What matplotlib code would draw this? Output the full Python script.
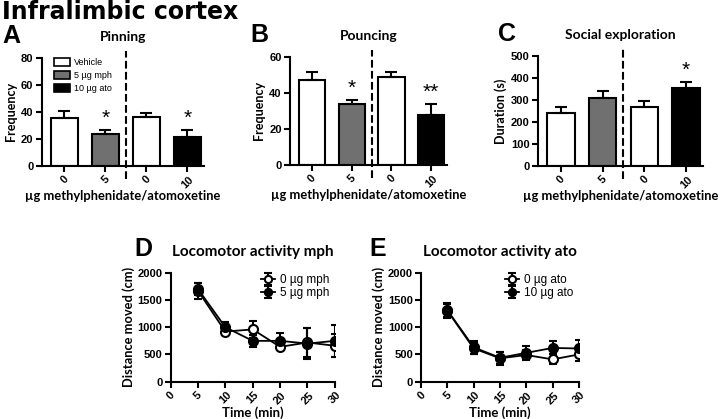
import numpy as np
import matplotlib.pyplot as plt
from matplotlib.patches import Patch

plt.rcParams['font.family'] = ['Liberation Sans', 'DejaVu Sans']
plt.rcParams['axes.linewidth'] = 1.5

# bar data (vehicle, drug, vehicle, drug)
dose_labels = ['0', '5', '0', '10']
bar_colors = ['white', '#707070', 'white', 'black']

pinning_mean = [35.5, 23.3, 36.5, 21.5]
pinning_sem = [5.0, 3.2, 3.0, 5.0]
pouncing_mean = [47.0, 33.5, 48.5, 27.5]
pouncing_sem = [4.5, 2.5, 3.0, 6.0]
social_mean = [240, 310, 268, 352]
social_sem = [30, 30, 25, 28]

pinning_stars = ['', '*', '', '*']
pouncing_stars = ['', '*', '', '**']
social_stars = ['', '', '', '*']

# locomotor data
time_min = [5, 10, 15, 20, 25, 30]
mph0_mean = [1670, 920, 960, 640, 720, 660]
mph0_sem = [150, 70, 160, 60, 260, 210]
mph5_mean = [1700, 1000, 750, 750, 700, 750]
mph5_sem = [110, 90, 110, 150, 290, 300]
ato0_mean = [1300, 610, 430, 490, 410, 500]
ato0_sem = [130, 110, 120, 90, 90, 120]
ato10_mean = [1310, 630, 440, 530, 620, 610]
ato10_sem = [130, 120, 110, 120, 120, 150]

title_font = ['Lato', 'DejaVu Sans']

fig = plt.figure(figsize=(7.2, 4.19), dpi=100)


def style_ax(ax):
    for s in ['top', 'right']:
        ax.spines[s].set_visible(False)
    ax.tick_params(width=1.5, length=4, labelsize=8, pad=2)
    for lab in ax.get_xticklabels() + ax.get_yticklabels():
        lab.set_fontweight('bold')


def bar_panel(rect, means, sems, stars, title, ylabel, ylim, yticks, letter):
    ax = fig.add_axes(rect)
    x = np.arange(4)
    ax.bar(x, means, width=0.66, color=bar_colors, edgecolor='black', linewidth=1.5,
           yerr=[[0] * 4, sems], capsize=4, error_kw=dict(elinewidth=1.5, capthick=1.5))
    for xi, m, s, st in zip(x, means, sems, stars):
        if st:
            ax.text(xi, m + s + ylim[1] * 0.02, st, ha='center', va='bottom', fontsize=15)
    ax.axvline(1.5, ymin=-0.12, ymax=1.06, color='black', ls='--', lw=1.5, clip_on=False)
    ax.set_xlim(-0.55, 3.4)
    ax.set_ylim(*ylim)
    ax.set_yticks(yticks)
    ax.set_xticks(x)
    ax.set_xticklabels(dose_labels, rotation=45)
    ax.set_ylabel(ylabel, fontsize=9, fontweight='bold', family=title_font, labelpad=3)
    ax.set_xlabel('µg methylphenidate/atomoxetine', fontsize=9.3, fontweight='bold',
                  family=title_font, labelpad=0)
    ax.set_title(title, fontsize=10, fontweight='bold', family=title_font, pad=12)
    style_ax(ax)
    fig.text(rect[0] - 0.055, rect[1] + rect[3] + 0.035, letter, fontsize=18, fontweight='bold')
    return ax


axA = bar_panel([0.058, 0.604, 0.225, 0.258], pinning_mean, pinning_sem, pinning_stars,
                'Pinning', 'Frequency', (0, 80), [0, 20, 40, 60, 80], 'A')
axA.legend(handles=[Patch(facecolor=c, edgecolor='black', lw=1.2) for c in ['white', '#707070', 'black']],
           labels=['Vehicle', '5 µg mph', '10 µg ato'], loc='upper left', frameon=False,
           fontsize=6.5, handlelength=1.7, handleheight=0.9, borderaxespad=0.1,
           handletextpad=0.5, bbox_to_anchor=(0.05, 1.04), labelspacing=0.45)
bar_panel([0.403, 0.606, 0.218, 0.259], pouncing_mean, pouncing_sem, pouncing_stars,
          'Pouncing', 'Frequency', (0, 60), [0, 20, 40, 60], 'B')
bar_panel([0.747, 0.604, 0.229, 0.2625], social_mean, social_sem, social_stars,
          'Social exploration', 'Duration (s)', (0, 500), [0, 100, 200, 300, 400, 500], 'C')


def line_panel(rect, m0, s0, m1, s1, lab0, lab1, title, letter, letter_dx):
    ax = fig.add_axes(rect)
    ax.errorbar(time_min, m0, yerr=s0, color='black', marker='o', mfc='white', mec='black',
                ms=6.5, mew=1.5, lw=1.3, capsize=3, elinewidth=1.5, capthick=1.5, label=lab0)
    ax.errorbar(time_min, m1, yerr=s1, color='black', marker='o', mfc='black', mec='black',
                ms=6.5, mew=1.5, lw=1.3, capsize=3, elinewidth=1.5, capthick=1.5, label=lab1)
    ax.set_xlim(0, 30)
    ax.set_ylim(0, 2000)
    ax.set_xticks([0, 5, 10, 15, 20, 25, 30])
    ax.set_yticks([0, 500, 1000, 1500, 2000])
    ax.tick_params(axis='x', labelrotation=45)
    ax.set_xlabel('Time (min)', fontsize=9.5, fontweight='bold', family=title_font, labelpad=0)
    ax.set_ylabel('Distance moved (cm)', fontsize=9.3, fontweight='bold', family=title_font,
                  labelpad=2)
    ax.set_title(title, fontsize=11, fontweight='bold', family=title_font, pad=12)
    style_ax(ax)
    ax.legend(loc='upper right', frameon=False, fontsize=8.5, handlelength=1.2,
              borderaxespad=0.1, labelspacing=0.1, handletextpad=0.4,
              bbox_to_anchor=(1.0, 1.04), markerscale=0.8)
    fig.text(rect[0] - letter_dx, rect[1] + rect[3] + 0.04, letter, fontsize=18, fontweight='bold')
    return ax


line_panel([0.237, 0.089, 0.228, 0.26], mph0_mean, mph0_sem, mph5_mean, mph5_sem,
           '0 µg mph', '5 µg mph', 'Locomotor activity mph', 'D', 0.05)
line_panel([0.585, 0.089, 0.219, 0.26], ato0_mean, ato0_sem, ato10_mean, ato10_sem,
           '0 µg ato', '10 µg ato', 'Locomotor activity ato', 'E', 0.072)

fig.text(0.003, 0.999, 'Infralimbic cortex', fontsize=17, fontweight='bold',
         family=['DejaVu Sans'], va='top')

fig.savefig('out.png', dpi=100)
